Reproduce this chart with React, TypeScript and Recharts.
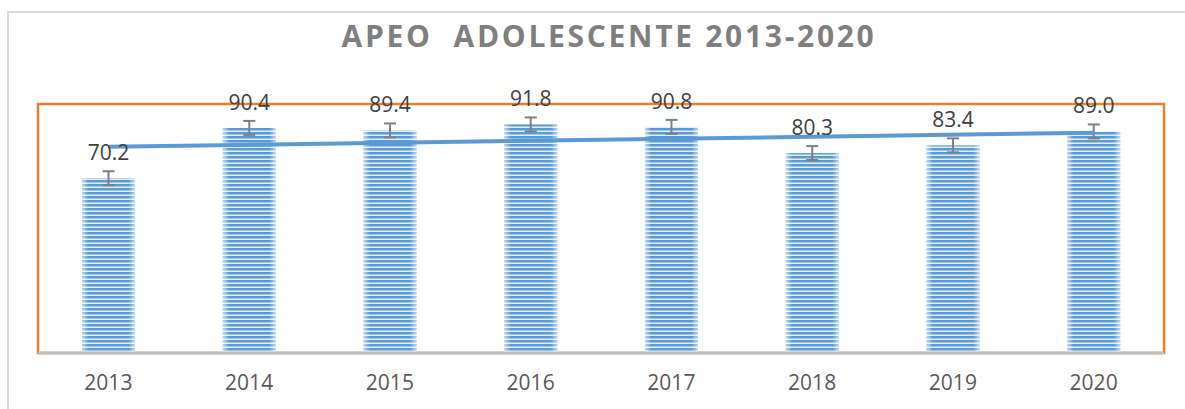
import {
  ComposedChart,
  Bar,
  Line,
  XAxis,
  YAxis,
  ErrorBar,
  LabelList,
  ReferenceArea,
} from "recharts";

const years = ["2013", "2014", "2015", "2016", "2017", "2018", "2019", "2020"];
const apeo = [70.2, 90.4, 89.4, 91.8, 90.8, 80.3, 83.4, 89.0];
const apeoErr = [2.8, 2.8, 2.8, 2.8, 2.8, 2.8, 2.8, 2.8];
// linear trend, read at its two ends
const trend = [82.8, null, null, null, null, null, null, 88.5];

const data = years.map((year, i) => ({
  year,
  value: apeo[i],
  err: apeoErr[i],
  trend: trend[i],
}));

const FONT = "'Open Sans', sans-serif";

function StripedBar(props: any) {
  const { x, y, width, height } = props;
  if (!height || height <= 0) return null;
  return (
    <g>
      <rect x={x} y={y} width={width} height={height} fill="url(#stripes)" />
      <rect x={x} y={y} width={width} height={height} fill="url(#edgeFade)" />
    </g>
  );
}

export default function App() {
  return (
    <div style={{ position: "absolute", left: 0, top: 0, width: 1185, height: 409, background: "#fff" }}>
      <svg
        width={1185}
        height={409}
        style={{ position: "absolute", left: 0, top: 0, pointerEvents: "none" }}
      >
        <line x1={8} y1={12} x2={1185} y2={12} stroke="#D9D9D9" strokeWidth={2} />
        <line x1={8} y1={11} x2={8} y2={409} stroke="#D9D9D9" strokeWidth={2} />
        <text
          x={609}
          y={47}
          textAnchor="middle"
          fill="#7F7F7F"
          fontFamily={FONT}
          fontWeight={700}
          fontSize={30}
          letterSpacing={2.7}
          style={{ whiteSpace: "pre" }}
        >
          {"APEO  ADOLESCENTE 2013-2020"}
        </text>
      </svg>
      <div style={{ position: "absolute", left: 0, top: 0 }}>
        <ComposedChart
          width={1185}
          height={409}
          data={data}
          margin={{ top: 104, right: 21, bottom: 0, left: 38 }}
        >
          <defs>
            <pattern id="stripes" patternUnits="userSpaceOnUse" width={4} height={4}>
              <rect x={0} y={0} width={4} height={4} fill="#E3EEF8" />
              <rect x={0} y={0} width={4} height={2.5} fill="#5B9BD5" />
            </pattern>
            <linearGradient id="edgeFade" x1="0" y1="0" x2="1" y2="0">
              <stop offset="0" stopColor="#fff" stopOpacity={0.6} />
              <stop offset="0.12" stopColor="#fff" stopOpacity={0} />
              <stop offset="0.88" stopColor="#fff" stopOpacity={0} />
              <stop offset="1" stopColor="#fff" stopOpacity={0.6} />
            </linearGradient>
          </defs>
          <ReferenceArea
            y1={0}
            y2={100}
            fill="none"
            stroke="#ED7D31"
            strokeWidth={2.5}
            ifOverflow="visible"
          />
          <YAxis hide domain={[0, 100]} />
          <Bar dataKey="value" barSize={53} shape={<StripedBar />} isAnimationActive={false}>
            <ErrorBar dataKey="err" width={6} stroke="#7F7F7F" strokeWidth={2} />
            <LabelList
              dataKey="value"
              position="top"
              offset={18}
              formatter={(v: any) => Number(v).toFixed(1)}
              fill="#404040"
              fontSize={21}
              fontFamily={FONT}
            />
          </Bar>
          <Line
            dataKey="trend"
            type="linear"
            connectNulls
            stroke="#5B9BD5"
            strokeWidth={4}
            dot={false}
            activeDot={false}
            isAnimationActive={false}
          />
          <XAxis
            dataKey="year"
            interval={0}
            height={56}
            tickLine={false}
            tickMargin={16}
            axisLine={{ stroke: "#BFBFBF", strokeWidth: 3 }}
            tick={{ fill: "#595959", fontSize: 21, fontFamily: FONT }}
          />
        </ComposedChart>
      </div>
    </div>
  );
}
